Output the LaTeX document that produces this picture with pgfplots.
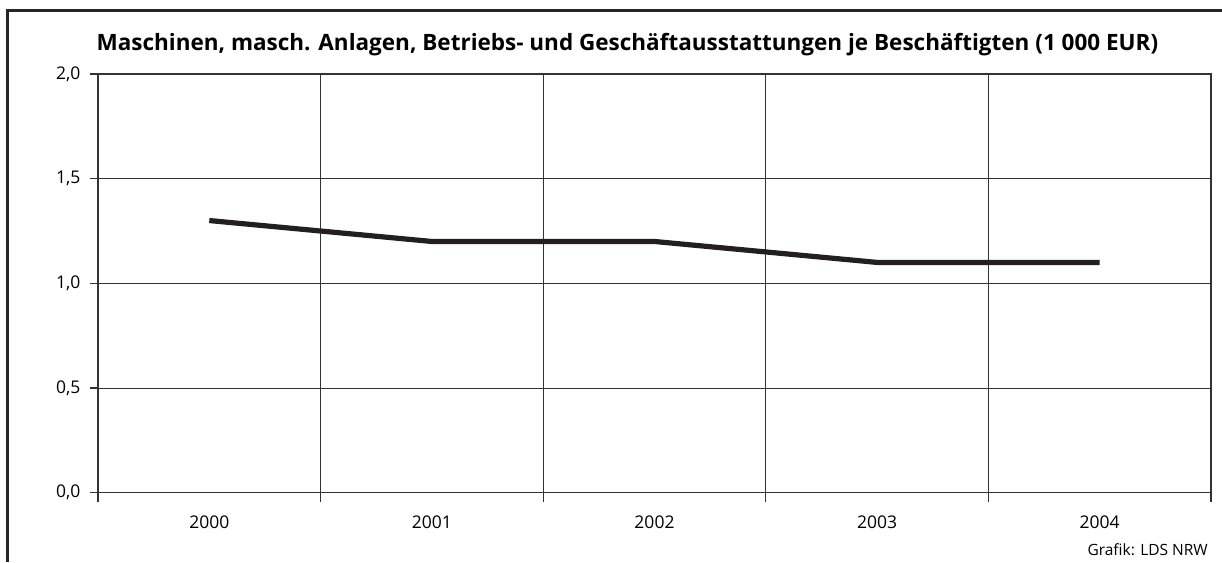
\documentclass[border=0pt]{standalone}
\usepackage{fontspec}
\setmainfont{Open Sans}
\usepackage{pgfplots}
\pgfplotsset{compat=1.18}
\definecolor{axc}{HTML}{333333}
\definecolor{linec}{HTML}{231F20}
\begin{document}
\begin{tikzpicture}
\begin{axis}[name=ax, at={(0,0)}, anchor=south west,
  scale only axis, width=1113pt, height=418.7pt,
  xmin=-0.5, xmax=4.5, ymin=0, ymax=2,
  xtick={0,1,2,3,4}, xticklabels={2000,2001,2002,2003,2004},
  minor xtick={-0.5,0.5,1.5,2.5,3.5,4.5},
  xminorgrids=true, ymajorgrids=true,
  ytick={0,0.5,1,1.5,2},
  xtick pos=bottom, ytick pos=left,
  tick align=outside,
  major tick length=8pt, minor tick length=9pt,
  major x tick style={draw=none},
  tick style={axc, line width=1.2pt},
  minor x tick style={axc, line width=1.2pt},
  grid style={axc, line width=0.9pt},
  minor grid style={axc, line width=0.9pt},
  axis line style={axc, line width=1.3pt},
  /pgf/number format/use comma,
  /pgf/number format/fixed,
  /pgf/number format/fixed zerofill,
  /pgf/number format/precision=1,
  /pgf/number format/assume math mode=true,
  xticklabel style={yshift=-12pt},
  ticklabel style={font=\fontsize{17.5pt}{20pt}\selectfont, text=black},
  yticklabel style={xshift=-6pt},
  clip=false,
]
\addplot[linec, line width=5.2pt] coordinates {(0,1.3) (1,1.2) (2,1.2) (3,1.1) (4,1.1)};
\node[anchor=base, font=\fontsize{22.5pt}{26pt}\selectfont\bfseries] at (rel axis cs:0.4757,1.055) {Maschinen, masch. Anlagen, Betriebs- und Geschäftausstattungen je Beschäftigten (1 000 EUR)};
\node[anchor=base east, font=\fontsize{15.5pt}{18pt}\selectfont, inner sep=0pt] at (rel axis cs:0.9973,-0.1488) {Grafik: LDS NRW};
\end{axis}
\draw[line width=3pt, black!85] (ax.south west) ++(-90pt,-69.3pt) -- ++(0,551.3pt) -- ++(1225pt,0);
\pgfresetboundingbox
\path[use as bounding box] (ax.south west) ++(-98pt,-69.3pt) rectangle ++(1222pt,562pt);
\end{tikzpicture}
\end{document}
